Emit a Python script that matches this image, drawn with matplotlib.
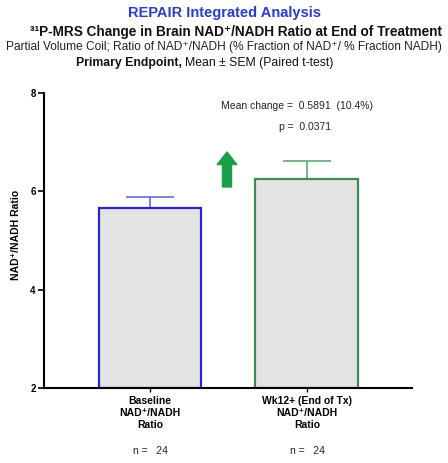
import matplotlib.pyplot as plt

plt.rcParams['font.family'] = ['Liberation Sans', 'DejaVu Sans']

# data
groups = ["Baseline\nNAD\u207A/NADH\nRatio", "Wk12+ (End of Tx)\nNAD\u207A/NADH\nRatio"]
means = [5.67, 6.26]
sems = [0.22, 0.35]
n_counts = [24, 24]
edge_colors = ["#2828c0", "#3c8c55"]
err_colors = ["#6a6ad0", "#62a878"]
yticks = [2, 4, 6, 8]

W, H = 448, 463
fig = plt.figure(figsize=(W / 100, H / 100), dpi=100)
ax = fig.add_axes([44 / W, 1 - 388 / H, (412 - 44) / W, (388 - 93) / H])

x = list(range(len(means)))
for i in x:
    ax.bar(i, means[i] - 2, bottom=2, width=0.655, color="#e4e4e4",
           edgecolor=edge_colors[i], linewidth=1.6, zorder=2)
    ax.errorbar(i, means[i], yerr=[[0], [sems[i]]], fmt="none",
                ecolor=err_colors[i], elinewidth=1.2, capsize=17,
                capthick=1.2, zorder=1)

ax.set_ylim(2, 8)
ax.set_xlim(-0.675, 1.67)
ax.set_yticks(yticks)
ax.set_yticklabels([str(t) for t in yticks], fontsize=7, fontweight="bold")
ax.set_xticks(x)
ax.set_xticklabels(groups, fontsize=7.5, fontweight="bold", linespacing=1.25)
ax.tick_params(axis="y", length=4, width=1.2, pad=2)
ax.tick_params(axis="x", length=3, width=1.0, pad=3)
for s in ["top", "right"]:
    ax.spines[s].set_visible(False)
for s in ["left", "bottom"]:
    ax.spines[s].set_linewidth(1.5)
ax.set_ylabel("NAD\u207A/NADH Ratio", fontsize=7.5, fontweight="bold")
ax.yaxis.set_label_coords(-0.062, 0.52)

for i in x:
    xp = [150, 307][i]
    fig.text(xp / W, 1 - 451 / H, f"n =   {n_counts[i]}", ha="center",
             va="center", fontsize=7.5, color="#222222")

# annotations
fig.text(297 / W, 1 - 106 / H, "Mean change =  0.5891  (10.4%)", ha="center",
         va="center", fontsize=7.5, color="#222222")
fig.text(305 / W, 1 - 127 / H, "p =  0.0371", ha="center", va="center",
         fontsize=7.5, color="#222222")
ax.annotate("", xy=(227 / W, 1 - 152 / H), xytext=(227 / W, 1 - 187 / H),
            xycoords="figure fraction", textcoords="figure fraction",
            arrowprops=dict(facecolor="#1c9e48", edgecolor="#1c9e48",
                            width=6.5, headwidth=14, headlength=9, shrink=0))

# titles
fig.text(0.5, 1 - 13 / H, "REPAIR Integrated Analysis", ha="center", va="center",
         fontsize=10.5, fontweight="bold", color="#2a3cc8")
fig.text(236 / W, 1 - 32 / H,
         "\u00B3\u00B9P-MRS Change in Brain NAD\u207A/NADH Ratio at End of Treatment",
         ha="center", va="center", fontsize=9.8, fontweight="bold", color="#111111")
fig.text(0.5, 1 - 47 / H,
         "Partial Volume Coil; Ratio of NAD\u207A/NADH (% Fraction of NAD\u207A/ % Fraction NADH)",
         ha="center", va="center", fontsize=8.6, color="#222222")
fig.text(182 / W, 1 - 63 / H, "Primary Endpoint,", ha="right", va="center",
         fontsize=8.8, fontweight="bold", color="#111111")
fig.text(185 / W, 1 - 63 / H, "Mean \u00B1 SEM (Paired t-test)", ha="left",
         va="center", fontsize=8.8, color="#111111")

fig.savefig("out.png", dpi=100)
